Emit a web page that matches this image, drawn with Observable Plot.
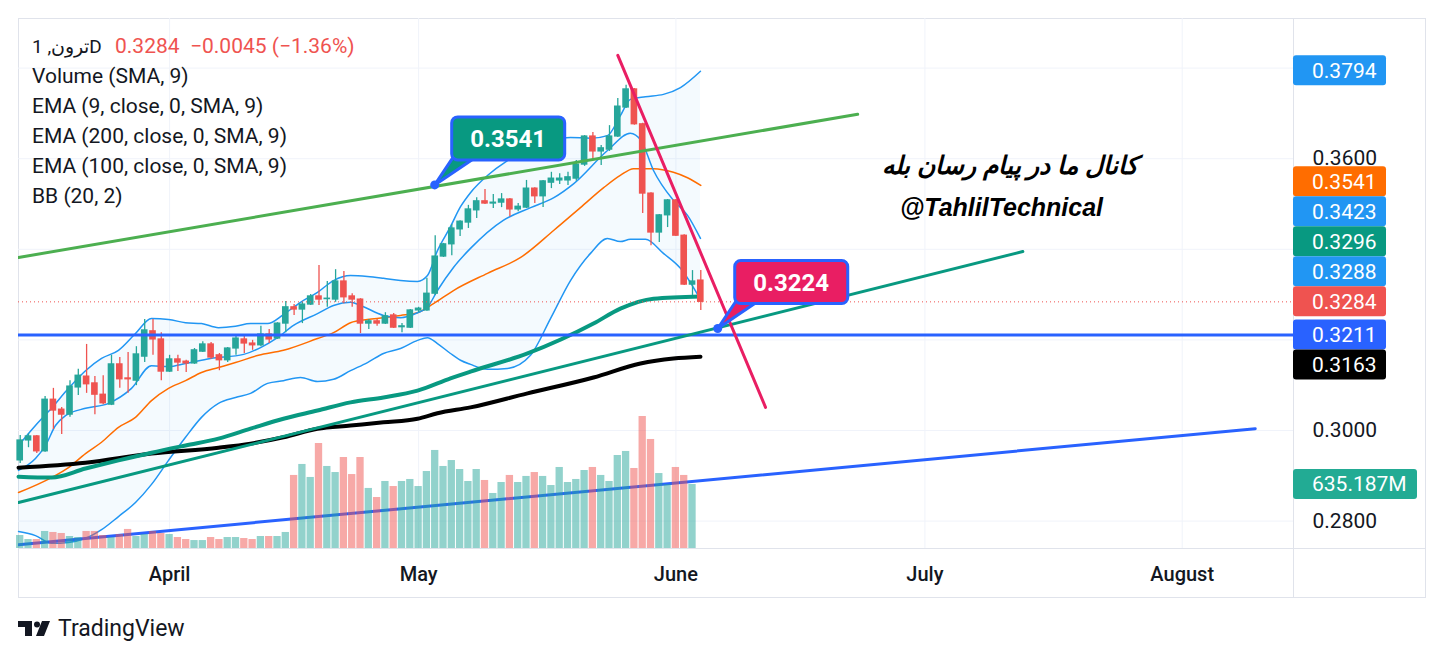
<!DOCTYPE html>
<html><head><meta charset="utf-8">
<script src="https://cdn.jsdelivr.net/npm/d3@7"></script>
<script src="https://cdn.jsdelivr.net/npm/@observablehq/plot@0.6"></script>
<style>
html,body{margin:0;padding:0;background:#fff;width:1444px;height:659px;overflow:hidden;font-family:Roboto,sans-serif;}
#wrap{position:relative;width:1444px;height:659px;}
#wrap svg.chart{position:absolute;left:0;top:0;}
.ln{position:absolute;background:#e0e3eb;}
#legend{position:absolute;left:32px;top:31px;font-size:21px;line-height:30px;color:#131722;white-space:nowrap;}
#legend .row{position:relative;height:30px;}
#legend .sym{font-size:19px;}
#legend .red{color:#ef5350;position:absolute;top:0;}
#logo{position:absolute;left:18px;top:619px;}
#tv{position:absolute;left:58px;top:615px;font-size:23px;line-height:28px;color:#131722;}
g[aria-label^="x-axis"] text{font-size:20px;font-weight:500;fill:#131722;}
g[aria-label^="y-axis"] text{font-size:21px;fill:#131722;}
</style></head><body>
<div id="wrap">
  <div class="ln" style="left:18px;top:18px;width:1408px;height:1px"></div>
  <div class="ln" style="left:18px;top:597px;width:1408px;height:1px"></div>
  <div class="ln" style="left:18px;top:18px;width:1px;height:580px"></div>
  <div class="ln" style="left:1425px;top:18px;width:1px;height:580px"></div>
  <div class="ln" style="left:1293px;top:18px;width:1px;height:580px"></div>
  <div class="ln" style="left:18px;top:548px;width:1408px;height:1px"></div>
  <div id="legend">
    <div class="row"><span class="sym">ترون, 1D</span><span class="red" style="left:83px">0.3284</span><span class="red" style="left:158px">−0.0045 (−1.36%)</span></div>
    <div class="row">Volume (SMA, 9)</div>
    <div class="row">EMA (9, close, 0, SMA, 9)</div>
    <div class="row">EMA (200, close, 0, SMA, 9)</div>
    <div class="row">EMA (100, close, 0, SMA, 9)</div>
    <div class="row">BB (20, 2)</div>
  </div>
  <svg id="logo" width="36" height="20" viewBox="18 619 36 20">
    <path d="M18,621h14v15h-7v-9h-7z" fill="#131722"/>
    <circle cx="37" cy="624.5" r="3" fill="#131722"/>
    <path d="M42,621h8l-6,15h-8z" fill="#131722"/>
  </svg>
  <div id="tv">TradingView</div>
</div>
<script>
// ---------- data ----------
const DAY = 864e5;
const START = Date.UTC(2025, 2, 14);            // first candle
const toDate = d => new Date(START + d * DAY);   // day offset -> date

const opens = [0.2934,0.2978,0.2987,0.2954,0.3068,0.3046,0.3035,0.3095,0.3119,0.3104,
 0.3079,0.3057,0.3146,0.3115,0.3110,0.3163,0.3219,0.3201,0.3130,0.3157,
 0.3152,0.3148,0.3174,0.3190,0.3166,0.3155,0.3181,0.3201,0.3192,0.3188,
 0.3212,0.3203,0.3236,0.3272,0.3267,0.3278,0.3296,0.3290,0.3289,0.3329,
 0.3296,0.3289,0.3236,0.3241,0.3236,0.3254,0.3228,0.3227,0.3265,0.3265,
 0.3302,0.3384,0.3411,0.3444,0.3459,0.3486,0.3506,0.3501,0.3503,0.3510,
 0.3488,0.3492,0.3534,0.3517,0.3547,0.3552,0.3552,0.3556,0.3587,0.3649,
 0.3616,0.3620,0.3649,0.3713,0.3753,0.3676,0.3523,0.3437,0.3475,0.3508,
 0.3430,0.3322,0.3331];
const highs = [0.2989,0.2993,0.2989,0.3075,0.3093,0.3051,0.3110,0.3135,0.3190,0.3119,
 0.3121,0.3166,0.3161,0.3172,0.3185,0.3245,0.3245,0.3216,0.3166,0.3166,
 0.3155,0.3181,0.3196,0.3194,0.3170,0.3183,0.3208,0.3208,0.3199,0.3230,
 0.3223,0.3238,0.3285,0.3278,0.3283,0.3300,0.3364,0.3329,0.3355,0.3351,
 0.3302,0.3291,0.3245,0.3245,0.3260,0.3258,0.3236,0.3267,0.3272,0.3336,
 0.3430,0.3413,0.3455,0.3463,0.3497,0.3514,0.3532,0.3521,0.3523,0.3512,
 0.3501,0.3552,0.3536,0.3552,0.3570,0.3567,0.3570,0.3596,0.3651,0.3658,
 0.3629,0.3673,0.3733,0.3762,0.3755,0.3678,0.3525,0.3477,0.3510,0.3510,
 0.3432,0.3353,0.3353];
const lows = [0.2927,0.2962,0.2949,0.2952,0.3002,0.2991,0.3029,0.3077,0.3082,0.3035,
 0.3057,0.3055,0.3093,0.3082,0.3099,0.3150,0.3166,0.3110,0.3128,0.3130,
 0.3128,0.3146,0.3172,0.3157,0.3132,0.3150,0.3166,0.3170,0.3177,0.3185,
 0.3192,0.3201,0.3216,0.3254,0.3236,0.3276,0.3276,0.3272,0.3283,0.3280,
 0.3272,0.3214,0.3223,0.3230,0.3234,0.3225,0.3216,0.3225,0.3260,0.3263,
 0.3298,0.3382,0.3386,0.3428,0.3446,0.3468,0.3499,0.3490,0.3492,0.3472,
 0.3483,0.3490,0.3501,0.3492,0.3534,0.3543,0.3541,0.3550,0.3583,0.3596,
 0.3585,0.3616,0.3647,0.3711,0.3674,0.3479,0.3408,0.3415,0.3448,0.3428,
 0.3320,0.3298,0.3265];
const closes = [0.2978,0.2987,0.2954,0.3068,0.3044,0.3035,0.3097,0.3121,0.3102,0.3079,
 0.3060,0.3146,0.3113,0.3113,0.3168,0.3221,0.3201,0.3130,0.3157,0.3150,
 0.3148,0.3177,0.3190,0.3161,0.3155,0.3181,0.3203,0.3192,0.3188,0.3212,
 0.3201,0.3236,0.3272,0.3267,0.3278,0.3296,0.3289,0.3291,0.3329,0.3294,
 0.3289,0.3236,0.3241,0.3236,0.3252,0.3227,0.3230,0.3265,0.3269,0.3302,
 0.3384,0.3411,0.3446,0.3461,0.3488,0.3506,0.3501,0.3503,0.3510,0.3488,
 0.3494,0.3534,0.3517,0.3550,0.3556,0.3556,0.3559,0.3587,0.3649,0.3616,
 0.3623,0.3649,0.3715,0.3753,0.3676,0.3523,0.3437,0.3475,0.3508,0.3430,
 0.3322,0.3329,0.3284];
// volume in millions (last candle has no bar)
const volumes = [129,89,89,169,159,149,119,109,169,169,
 129,109,139,189,119,139,169,149,139,109,
 89,79,79,109,89,109,109,99,89,119,
 119,119,159,725,834,705,1042,814,754,903,
 734,903,596,506,665,615,665,685,615,764,
 973,814,873,784,665,784,675,546,655,725,
 655,715,754,715,625,804,655,685,774,804,
 725,665,923,963,794,1310,1082,744,635,804,
 725,635.187,null];

// Bollinger bands
const bbDays = [-0.2,1.84,3.77,5.82,7.87,9.80,11.84,13.89,15.82,17.87,
 19.92,21.84,23.89,25.94,27.75,29.80,31.72,33.77,35.82,37.75,
 39.80,41.84,43.77,45.82,47.87,49.07,50.27,51.84,53.05,54.25,
 56.30,58.71,61.48,63.89,66.30,68.71,70.75,72.31,73.52,75.33,
 77.5,79.55,81.96];
const bbUpper = [0.2967,0.3011,0.3049,0.3093,0.3132,0.3159,0.3177,0.3214,0.3247,0.3245,
 0.3238,0.3236,0.3227,0.3230,0.3236,0.3236,0.3256,0.3283,0.3305,0.3331,
 0.3342,0.3340,0.3336,0.3331,0.3329,0.3342,0.3397,0.3450,0.3494,0.3525,
 0.3563,0.3596,0.3623,0.3640,0.3647,0.3645,0.3651,0.3695,0.3731,0.3737,
 0.3742,0.3757,0.3793];
const bbLower = [0.2777,0.2768,0.2751,0.2753,0.2762,0.2781,0.2810,0.2841,0.2881,0.2934,
 0.2985,0.3029,0.3060,0.3073,0.3082,0.3104,0.3110,0.3117,0.3108,0.3113,
 0.3132,0.3150,0.3170,0.3181,0.3199,0.3205,0.3192,0.3170,0.3155,0.3146,
 0.3135,0.3137,0.3166,0.3247,0.3331,0.3391,0.3424,0.3417,0.3422,0.3422,
 0.3391,0.3358,0.3289];
const basisDays = [-0.2,3.77,5.82,7.87,9.80,11.84,13.89,15.82,17.87,19.92,21.84,23.89,25.94,28.71,31.72,35.82,37.75,39.80,41.84,43.77,45.82,47.87,49.8,52.2,56.3,60.3,64.3,67.5,70.3,72.3,73.9,76.3,78.7,80.4,82.0];
const basisVals = [0.2863,0.2896,0.2918,0.2949,0.2974,0.3007,0.3029,0.3066,0.3093,0.3110,0.3128,0.3139,0.3150,0.3166,0.3177,0.3203,0.3216,0.3238,0.3245,0.3249,0.3254,0.3260,0.3280,0.3309,0.3347,0.3382,0.3442,0.3492,0.3536,0.3563,0.3578,0.3578,0.3570,0.3558,0.3541];
const ema9Days = [-0.2,1.84,3.05,4.25,5.46,7.87,10.64,13.41,15.82,17.87,19.92,22.93,26.92,28.96,31.0,32.93,35.82,37.75,39.80,41.0,43.77,45.82,47.87,49.07,50.27,52.2,54.25,58.2,61.5,64.3,66.7,70.76,73.5,74.8,76.3,78.7,80.4,81.96];
const ema9Vals = [0.2912,0.2938,0.2967,0.3011,0.3033,0.3049,0.3060,0.3093,0.3143,0.3141,0.3148,0.3159,0.3168,0.3183,0.3205,0.3232,0.3258,0.3276,0.3283,0.3276,0.3254,0.3249,0.3260,0.3272,0.3309,0.3360,0.3402,0.3464,0.3492,0.3514,0.3545,0.3618,0.3656,0.3640,0.3574,0.3508,0.3475,0.3424];
const ema100Days = [-0.2,3.77,7.87,11.84,15.82,19.92,23.89,27.75,31.72,35.82,39.80,43.77,47.87,51.84,54.25,61.12,69.07,72.31,76.3,81.96];
const ema100Vals = [0.2898,0.2896,0.2916,0.2934,0.2951,0.2967,0.2982,0.3004,0.3026,0.3044,0.3062,0.3073,0.3088,0.3115,0.3130,0.3170,0.3236,0.3269,0.3291,0.3296];
const ema200Days = [-0.2,7.87,15.82,23.89,27.75,31.72,35.82,39.80,43.77,47.87,50.27,54.25,61.12,69.07,74.73,78.7,81.96];
const ema200Vals = [0.2918,0.2929,0.2949,0.2962,0.2971,0.2985,0.3004,0.3011,0.3018,0.3026,0.3038,0.3051,0.3082,0.3117,0.3148,0.3159,0.3163];

// drawings: trend lines [day, price] start/end
const greenLine = [[-0.2,0.3382],[100.9,0.3698]];
const tealLine  = [[-0.2,0.2841],[120.8,0.3395]];
const blueLine  = [[-0.2,0.2748],[148.8,0.3004]];
const pinkLine  = [[72.0,0.3828],[89.8,0.3051]];
const levelLine = 0.3211;
const lastPrice = 0.3284;
const calloutDays = [50.0, 84.1];
const calloutPrices = [0.3541, 0.3224];
const noteDays = [119.25, 118.23];
const notePrices = [0.3583, 0.3492];
const noteTexts = ["کانال ما در پیام رسان بله", "@TahlilTechnical"];

// axes
const monthDates = ["2025-04-01","2025-05-01","2025-06-01","2025-07-01","2025-08-01"].map(s => new Date(s));
const monthLabels = ["April","May","June","July","August"];
const priceTicks = [0.28, 0.30, 0.36];
const gridPrices = [0.28, 0.30, 0.32, 0.34, 0.36, 0.38];
const labelValues = [0.3794,0.3541,0.3423,0.3296,0.3288,0.3284,0.3211,0.3163];
const labelColors = ["#2196f3","#ff6d00","#2196f3","#089981","#2196f3","#ef5350","#2962ff","#000000"];
const volLabel = 635.187;

// ---------- build ----------
const xDomain = [toDate(-0.205), toDate(153.41)];
const yDomain = [0.27395, 0.39095];
const candles = opens.map((o, i) => ({i, date: toDate(i), open: o, high: highs[i], low: lows[i], close: closes[i], vol: volumes[i]}));
const upC = candles.filter(d => d.close >= d.open);
const dnC = candles.filter(d => d.close < d.open);
const series = (days, vals) => days.map((d, i) => ({date: toDate(d), v: vals[i]}));
const bb = bbDays.map((d, i) => ({date: toDate(d), up: bbUpper[i], lo: bbLower[i]}));
const seg = s => s.map(([d, p]) => ({date: toDate(d), v: p}));
const UP = "#26a69a", DN = "#ef5350";

const body = (data, color) => Plot.rect(data, {
  x1: d => toDate(d.i - 0.4), x2: d => toDate(d.i + 0.4),
  y1: d => Math.min(d.open, d.close), y2: d => Math.max(d.open, d.close),
  fill: color, insetTop: -0.6, insetBottom: -0.6
});
const wick = (data, color) => Plot.ruleX(data, {x: "date", y1: "low", y2: "high", stroke: color, strokeWidth: 1.3});
const common = {width: 1444, height: 659, marginLeft: 18, marginRight: 151, marginTop: 18, marginBottom: 111};

const plot = Plot.plot({
  ...common,
  style: {fontFamily: "Roboto, sans-serif", fontSize: "18px", color: "#131722", background: "transparent"},
  x: {type: "utc", domain: xDomain, ticks: monthDates, tickFormat: d => monthLabels[monthDates.findIndex(m => +m === +d)], tickSize: 0, tickPadding: 18, label: null},
  y: {domain: yDomain, axis: "right", ticks: priceTicks, tickFormat: d => d.toFixed(4), tickSize: 0, tickPadding: 19, label: null},
  marks: [
    Plot.ruleY(gridPrices, {stroke: "#f0f3fa", strokeWidth: 1}),
    Plot.ruleX(monthDates, {stroke: "#f0f3fa", strokeWidth: 1}),
    Plot.areaY(bb, {x: "date", y1: "lo", y2: "up", fill: "#2196f3", fillOpacity: 0.05, curve: "monotone-x"}),
    Plot.line(bb, {x: "date", y: "up", stroke: "#2196f3", strokeWidth: 1.5, curve: "monotone-x"}),
    Plot.line(bb, {x: "date", y: "lo", stroke: "#2196f3", strokeWidth: 1.5, curve: "monotone-x"}),
    Plot.line(series(basisDays, basisVals), {x: "date", y: "v", stroke: "#ff6d00", strokeWidth: 1.5, curve: "monotone-x"}),
    Plot.line(series(ema9Days, ema9Vals), {x: "date", y: "v", stroke: "#2196f3", strokeWidth: 1.5, curve: "monotone-x"}),
    Plot.line(series(ema200Days, ema200Vals), {x: "date", y: "v", stroke: "#000000", strokeWidth: 4, curve: "monotone-x"}),
    Plot.line(series(ema100Days, ema100Vals), {x: "date", y: "v", stroke: "#089981", strokeWidth: 4, curve: "monotone-x"}),
    wick(upC, UP), wick(dnC, DN), body(upC, UP), body(dnC, DN),
    Plot.ruleY([lastPrice], {stroke: "#ef5350", strokeWidth: 1, strokeDasharray: "1,3"}),
    Plot.ruleY([levelLine], {stroke: "#2962ff", strokeWidth: 3}),
    Plot.line(seg(greenLine), {x: "date", y: "v", stroke: "#4caf50", strokeWidth: 3, clip: true}),
    Plot.line(seg(tealLine), {x: "date", y: "v", stroke: "#089981", strokeWidth: 3, clip: true}),
    Plot.line(seg(blueLine), {x: "date", y: "v", stroke: "#2962ff", strokeWidth: 3, clip: true}),
    Plot.line(seg(pinkLine), {x: "date", y: "v", stroke: "#e91e63", strokeWidth: 3, clip: true}),
    Plot.text(noteTexts, {x: (t, i) => toDate(noteDays[i]), y: (t, i) => notePrices[i], text: t => t,
      fontFamily: "Liberation Sans, DejaVu Sans, sans-serif", fontWeight: "bold", fontStyle: "italic", fontSize: 25, fill: "#000", textAnchor: "middle"})
  ]
});
plot.classList.add("chart");

const sx = plot.scale("x"), sy = plot.scale("y");
const svg = d3.select(plot);

// callouts
calloutDays.forEach((d, k) => {
  const p = calloutPrices[k];
  const ax = sx.apply(toDate(d)), ay = sy.apply(p);
  const fill = k === 0 ? "#089981" : "#e91e63";
  const bx = ax + 17, by = ay - 68, bw = 113, bh = 43;
  const g = svg.append("g");
  g.append("path").attr("d", `M${ax},${ay}L${ax + 18},${by + bh - 2}L${ax + 40},${by + bh - 2}Z`)
    .attr("fill", fill).attr("stroke", "#2962ff").attr("stroke-width", 3).attr("stroke-linejoin", "round");
  g.append("rect").attr("x", bx).attr("y", by).attr("width", bw).attr("height", bh).attr("rx", 6)
    .attr("fill", fill).attr("stroke", "#2962ff").attr("stroke-width", 3);
  g.append("text").attr("x", bx + bw / 2).attr("y", by + bh / 2).attr("dy", "0.36em")
    .attr("text-anchor", "middle").attr("fill", "#fff").attr("font-size", 24).attr("font-weight", "bold")
    .attr("font-family", "Roboto, sans-serif").text(p.toFixed(4));
  g.append("circle").attr("cx", ax).attr("cy", ay).attr("r", 4.5).attr("fill", "#2962ff");
});

// right-hand price labels, stacked around the last price
const anchor = labelValues.indexOf(lastPrice);
const pos = labelValues.map(v => sy.apply(v));
for (let i = anchor - 1; i >= 0; i--) pos[i] = Math.min(pos[i], pos[i + 1] - 30);
for (let i = anchor + 1; i < pos.length; i++) pos[i] = Math.max(pos[i], pos[i - 1] + 30);
const xr = (sx.range && sx.range[1]) || 1293;
labelValues.forEach((v, i) => {
  const g = svg.append("g");
  g.append("rect").attr("x", xr).attr("y", pos[i] - 15).attr("width", 93).attr("height", 30).attr("rx", 3).attr("fill", labelColors[i]);
  g.append("text").attr("x", xr + 19).attr("y", pos[i]).attr("dy", "0.35em").attr("fill", "#fff").attr("text-anchor", "start")
    .attr("font-size", 21).attr("font-family", "Roboto, sans-serif").text(v.toFixed(4));
});

// volume overlay
const volData = candles.filter(d => d.vol != null);
const vplot = Plot.plot({
  ...common,
  style: {background: "transparent"},
  x: {type: "utc", domain: xDomain, axis: null},
  y: {domain: [0, 5260], axis: null},
  marks: [
    Plot.rectY(volData.filter(d => d.close >= d.open), {x1: d => toDate(d.i - 0.44), x2: d => toDate(d.i + 0.44), y: "vol", fill: UP, fillOpacity: 0.5}),
    Plot.rectY(volData.filter(d => d.close < d.open), {x1: d => toDate(d.i - 0.44), x2: d => toDate(d.i + 0.44), y: "vol", fill: DN, fillOpacity: 0.5})
  ]
});
vplot.classList.add("chart");
const vy = vplot.scale("y");
const vg = d3.select(vplot).append("g");
const vyy = vy.apply(volLabel);
vg.append("rect").attr("x", xr).attr("y", vyy - 15).attr("width", 124).attr("height", 30).attr("rx", 3).attr("fill", "#22ab94");
vg.append("text").attr("x", xr + 19).attr("y", vyy).attr("dy", "0.35em").attr("fill", "#fff").attr("text-anchor", "start")
  .attr("font-size", 21).attr("font-family", "Roboto, sans-serif").text(volLabel.toFixed(3) + "M");

const wrap = document.getElementById("wrap");
wrap.insertBefore(vplot, document.getElementById("legend"));
wrap.insertBefore(plot, vplot);
</script>
</body></html>
